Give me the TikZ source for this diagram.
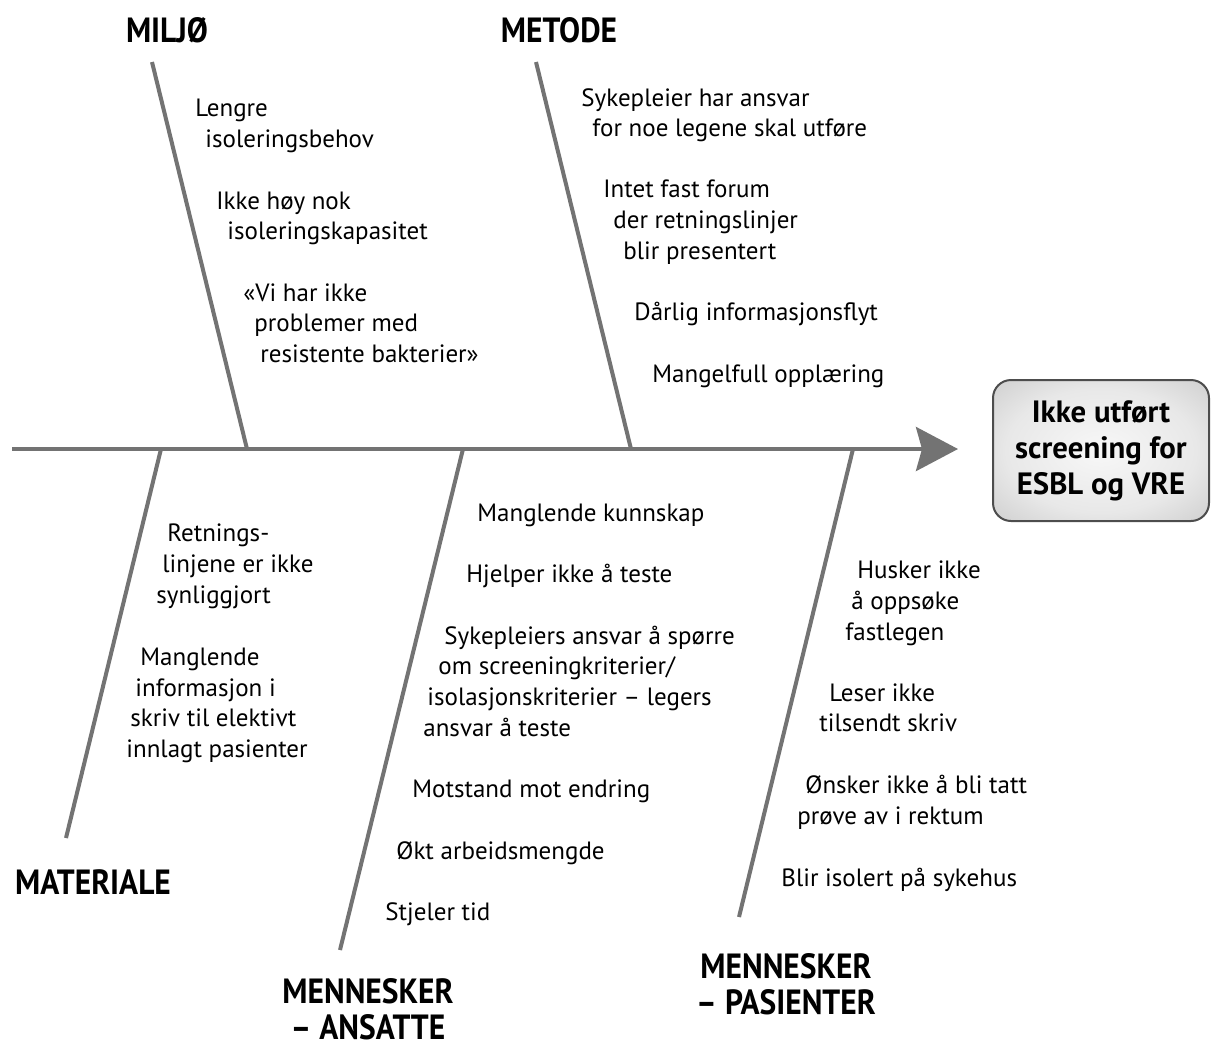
\documentclass[tikz,border=0pt]{standalone}
\usepackage{fontspec}
\setmainfont{PT Sans}
\newfontfamily\labelfont[FakeStretch=0.9]{PT Sans}
\usetikzlibrary{
  arrows.meta % For arrow tips
}
\definecolor{bonegray}{HTML}{737373}
\definecolor{boxedge}{HTML}{4D4D4D}
% Lys midt i boksen, mørkere mot kantene
\pgfdeclareradialshading{boxglow}{\pgfpoint{0bp}{0bp}}{%
  color(0bp)=(gray!6); color(22bp)=(gray!18); color(50bp)=(gray!58);
  color(72bp)=(gray!80)}

\begin{document}
\begin{tikzpicture}[
      x=0.5pt, y=-0.5pt, % 1 unit = 1 pixel, y downwards
      bone/.style={draw=bonegray, line width=2pt}, % Style for the fish bones
      spine/.style={bone, -{Stealth[length=21pt, width=22pt, inset=3pt]}}, % Main arrow
      cause/.style={anchor=base west, inner sep=0pt,
        font=\fontsize{12.5}{15}\selectfont}, % Style for the causes
      category/.style={inner sep=0pt, align=center,
        font=\labelfont\bfseries\fontsize{17.5}{18}\selectfont}, % Bone labels
      effect/.style={draw=boxedge, line width=1pt, rounded corners=9pt,
        shading=boxglow, minimum width=108pt, minimum height=70.5pt,
        align=center, font=\bfseries\fontsize{15.4}{18}\selectfont}, % Problem box
    ]
    \useasboundingbox (0,0) rectangle (1211,1046);

    % Koordinater
    \coordinate (tail) at (12,449);
    \coordinate (head) at (958,449);
    \coordinate (miljoTop) at (152,62);
    \coordinate (miljoFoot) at (247,449);
    \coordinate (metodeTop) at (536,62);
    \coordinate (metodeFoot) at (631,449);
    \coordinate (materialeFoot) at (161,449);
    \coordinate (materialeEnd) at (66,838);
    \coordinate (ansatteFoot) at (463,449);
    \coordinate (ansatteEnd) at (340,950);
    \coordinate (pasienterFoot) at (853,449);
    \coordinate (pasienterEnd) at (739,917);

    % Ryggrad og bein
    \draw[spine] (tail) -- (head);
    \foreach \i/\j in {miljoTop/miljoFoot, metodeTop/metodeFoot,
        materialeFoot/materialeEnd, ansatteFoot/ansatteEnd,
        pasienterFoot/pasienterEnd}
    \draw[bone, line cap=butt] (\i) -- (\j);

    % Problem
    \node[effect] (problem) at (1101,450.5) {Ikke utført\\screening for\\ESBL og VRE};

    % Kategorier
    \node[category, anchor=base] (miljo) at (167,42) {MILJØ};
    \node[category, anchor=base] (metode) at (559,42) {METODE};
    \node[category, anchor=base] (materiale) at (93,894) {MATERIALE};
    \node[category, anchor=north] (ansatte) at (368,978) {MENNESKER\\– ANSATTE};
    \node[category, anchor=north] (pasienter) at (786,953) {MENNESKER\\– PASIENTER};

    % Årsaker
    \foreach \x/\y/\t [count=\n] in {195/116/{Lengre}, 205/147/{isoleringsbehov},
        216/209/{Ikke høy nok}, 227/239/{isoleringskapasitet},
        243/301/{«Vi har ikke}, 254/331/{problemer med},
        260/362/{resistente bakterier»}}
    \node[cause] (miljo-\n) at (\x,\y) {\t};

    \foreach \x/\y/\t [count=\n] in {581/106/{Sykepleier har ansvar},
        592/136/{for noe legene skal utføre}, 603/197/{Intet fast forum},
        613/228/{der retningslinjer}, 623/259/{blir presentert},
        634/320/{Dårlig informasjonsflyt}, 652/382/{Mangelfull opplæring}}
    \node[cause] (metode-\n) at (\x,\y) {\t};

    \foreach \x/\y/\t [count=\n] in {167/541/{Retnings-}, 162/572/{linjene er ikke},
        156/603/{synliggjort}, 140/665/{Manglende}, 135/696/{informasjon i},
        130/726/{skriv til elektivt}, 126/757/{innlagt pasienter}}
    \node[cause] (materiale-\n) at (\x,\y) {\t};

    \foreach \x/\y/\t [count=\n] in {477/521/{Manglende kunnskap},
        466/582/{Hjelper ikke å teste}, 444/644/{Sykepleiers ansvar å spørre},
        438/674/{om screeningkriterier/}, 427/705/{isolasjonskriterier – legers},
        423/736/{ansvar å teste}, 412/797/{Motstand mot endring},
        396/859/{Økt arbeidsmengde}, 385/920/{Stjeler tid}}
    \node[cause] (ansatte-\n) at (\x,\y) {\t};

    \foreach \x/\y/\t [count=\n] in {857/578/{Husker ikke}, 851/609/{å oppsøke},
        845/640/{fastlegen}, 829/701/{Leser ikke}, 819/731/{tilsendt skriv},
        805/793/{Ønsker ikke å bli tatt}, 797/824/{prøve av i rektum},
        781/886/{Blir isolert på sykehus}}
    \node[cause] (pasienter-\n) at (\x,\y) {\t};
  \end{tikzpicture}
\end{document}
